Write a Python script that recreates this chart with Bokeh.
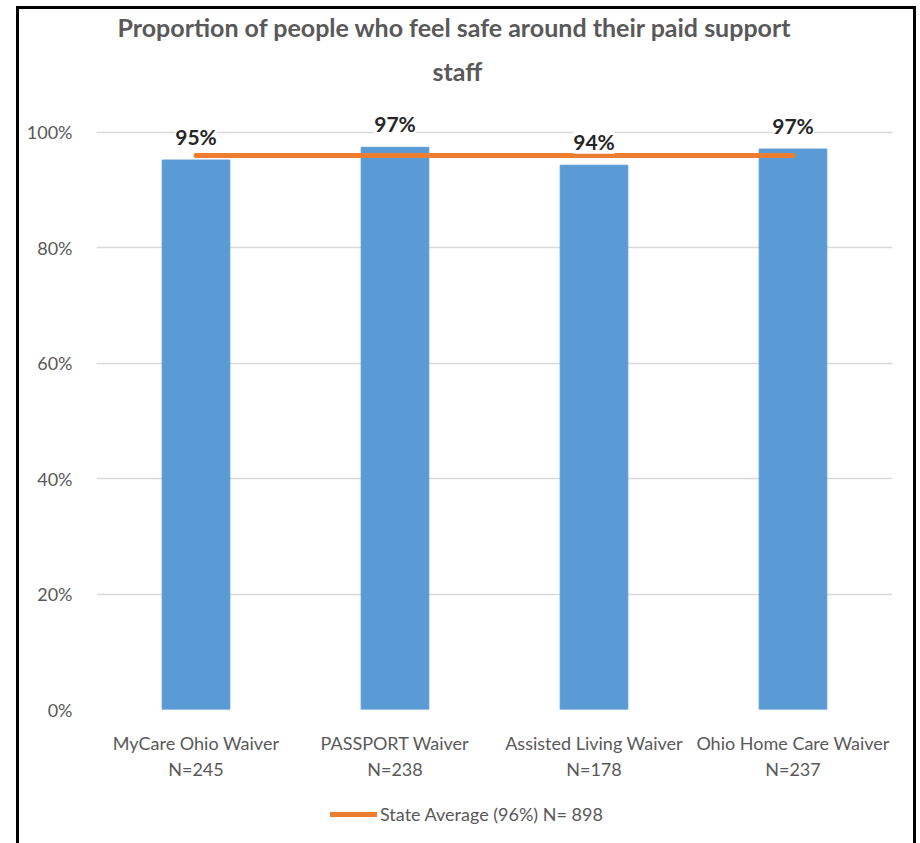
from bokeh.plotting import figure
from bokeh.layouts import column
from bokeh.models import (FactorRange, Range1d, FixedTicker, NumeralTickFormatter,
                          ColumnDataSource, LabelSet, Legend, LegendItem, Title)
from bokeh.core.properties import value
from bokeh.embed import file_html
from bokeh.resources import INLINE

categories = ["MyCare Ohio Waiver\nN=245", "PASSPORT Waiver\nN=238",
              "Assisted Living Waiver\nN=178", "Ohio Home Care Waiver\nN=237"]
values = [0.952, 0.974, 0.943, 0.971]
value_labels = ["95%", "97%", "94%", "97%"]
state_average = [0.96, 0.96, 0.96, 0.96]
legend_label = "State Average (96%) N= 898"
title_line1 = "Proportion of people who feel safe around their paid support"
title_line2 = "staff"
y_ticks = [0, 0.2, 0.4, 0.6, 0.8, 1.0]

FONT = "Lato"
GREY = "#595959"
ORANGE = "#ed7d31"

p = figure(width=894, height=773, output_backend="svg", toolbar_location=None,
           x_range=FactorRange(*categories, range_padding=0),
           y_range=Range1d(0, 615 / 580),
           min_border_left=77, min_border_right=21, min_border_top=84,
           min_border_bottom=72)

p.outline_line_color = None
p.background_fill_color = "white"
p.border_fill_color = "white"

t2 = Title(text=title_line2, align="left", offset=336, text_font=FONT,
           text_font_size="25px", text_color=GREY, text_font_style="bold", standoff=24)
t1 = Title(text=title_line1, align="left", offset=21, text_font=FONT,
           text_font_size="25px", text_color=GREY, text_font_style="bold", standoff=0)
p.add_layout(t2, "above")
p.add_layout(t1, "above")

src = ColumnDataSource(dict(cat=categories, val=values, lab=value_labels, avg=state_average))

p.vbar(x="cat", top="val", width=0.34, source=src, color="#5b9bd5")
p.line(x="cat", y="avg", source=src, line_color=ORANGE, line_width=5, line_cap="round")

labels = LabelSet(x="cat", y="val", text="lab", source=src, y_offset=24,
                  text_align="center", text_baseline="middle",
                  text_font=value(FONT), text_font_size=value("21px"),
                  text_font_style=value("bold"),
                  text_color="#262626", background_fill_color="white")
p.add_layout(labels)

p.yaxis.ticker = FixedTicker(ticks=y_ticks)
p.yaxis.formatter = NumeralTickFormatter(format="0%")
p.xgrid.grid_line_color = None
p.ygrid.grid_line_color = "#d9d9d9"
p.ygrid.grid_line_width = 1.5
for ax in (p.xaxis, p.yaxis):
    ax.axis_line_color = None
    ax.major_tick_line_color = None
    ax.minor_tick_line_color = None
    ax.major_label_text_font = FONT
    ax.major_label_text_font_size = "18px"
    ax.major_label_text_color = GREY
p.yaxis.major_label_standoff = 18
p.xaxis.major_label_standoff = 16

# legend strip below the chart
pl = figure(width=894, height=61, output_backend="svg", toolbar_location=None,
            x_range=Range1d(0, 1), y_range=Range1d(0, 1),
            x_axis_type=None, y_axis_type=None, min_border=0)
pl.outline_line_color = None
pl.grid.grid_line_color = None
pl.background_fill_color = "white"
pl.border_fill_color = "white"
leg_src = ColumnDataSource(dict(x=[float("nan")], y=[float("nan")]))
leg_line = pl.line(x="x", y="y", source=leg_src, line_color=ORANGE, line_width=5,
                   line_cap="round")
legend = Legend(items=[LegendItem(label=legend_label, renderers=[leg_line])],
                location=(234, 18), orientation="horizontal",
                label_text_font=FONT, label_text_font_size="18px",
                label_text_color=GREY, glyph_width=47, label_standoff=3,
                border_line_color=None, background_fill_alpha=0, padding=0,
                margin=0)
pl.add_layout(legend)

layout = column(p, pl, spacing=0)
layout.styles = {"border-left": "3px solid black", "border-top": "3px solid black",
                 "border-right": "3px solid black", "margin-left": "16px",
                 "margin-top": "6px", "background": "white"}

open("out.html", "w").write(file_html(layout, INLINE))
